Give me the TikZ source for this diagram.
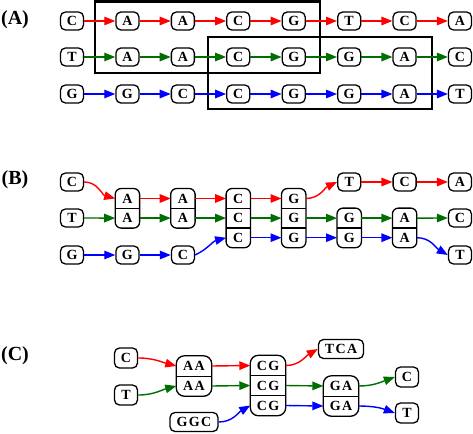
\documentclass[tikz,border=0pt]{standalone}
\usepackage{fontspec}
\setmainfont{Liberation Serif}
\usetikzlibrary{arrows.meta,fit}
\definecolor{myred}{RGB}{255,0,0}
\definecolor{mygreen}{RGB}{0,110,0}
\definecolor{myblue}{RGB}{0,0,255}
\begin{document}
\begin{tikzpicture}[x=1pt,y=1pt,
  nd/.style={draw, line width=1.3pt, rounded corners=5pt, minimum width=23pt, minimum height=18pt, inner sep=0pt, fill=white, font=\fontsize{14}{16}\selectfont\bfseries},
  wnd/.style={nd, minimum height=19pt, font=\fontsize{14}{16}\selectfont\bfseries\addfontfeature{LetterSpace=10}},
  cellB/.style={minimum width=24pt, minimum height=19.6pt, inner sep=0pt, font=\fontsize{14}{16}\selectfont\bfseries},
  cellC/.style={minimum width=35pt, minimum height=20pt, inner sep=0pt, font=\fontsize{14}{16}\selectfont\bfseries\addfontfeature{LetterSpace=10}},
  grp/.style={draw, line width=1.3pt, rounded corners=6pt, inner sep=0pt},
  divl/.style={line width=1.3pt},
  ar/.style={line width=1.4pt, -{Triangle[length=11pt,width=8.5pt]}},
  box/.style={line width=2.8pt},
  lab/.style={font=\fontsize{20}{22}\selectfont\bfseries}
]
\useasboundingbox (0,0) rectangle (473,-433);

% ---------------- (A) ----------------
\node[lab] (labA) at (15,-20) {(A)};
\draw[box] (95,-1.5) rectangle (320,-73);
\draw[box] (208,-37) rectangle (432,-109);
\foreach \t [count=\i] in {C,A,A,C,G,T,C,A}
  \node[nd] (ra\i) at ({72+55.43*(\i-1)},-21) {\t};
\foreach \t [count=\i] in {T,A,A,C,G,G,A,C}
  \node[nd] (ga\i) at ({72+55.43*(\i-1)},-57) {\t};
\foreach \t [count=\i] in {G,G,C,C,G,G,A,T}
  \node[nd] (ba\i) at ({72+55.43*(\i-1)},-94) {\t};
\foreach \i [evaluate=\i as \j using int(\i+1)] in {1,...,7} {
  \draw[ar,myred] (ra\i) -- (ra\j);
  \draw[ar,mygreen] (ga\i) -- (ga\j);
  \draw[ar,myblue] (ba\i) -- (ba\j);
}

% ---------------- (B) ----------------
\node[lab] (labB) at (15,-180) {(B)};
\node[nd] (bC) at (72,-182) {C};
\node[nd] (bT) at (72,-218) {T};
\node[nd] (bG) at (72,-255) {G};
\node[nd] (bG2) at (127.4,-255) {G};
\node[nd] (bC2) at (182.9,-255) {C};
\node[nd] (bT2) at (349.2,-182) {T};
\node[nd] (bC3) at (404.6,-182) {C};
\node[nd] (bA3) at (460,-182) {A};
\node[nd] (bC4) at (460,-218) {C};
\node[nd] (bT4) at (460,-255) {T};
% stacks
\node[cellB] (s1a) at (127.4,-198.5) {A};
\node[cellB] (s1b) at (127.4,-218.1) {A};
\node[grp, fit=(s1a)(s1b)] (s1) {};
\draw[divl] (s1a.south west) -- (s1a.south east);
\node[cellB] (s2a) at (182.9,-198.5) {A};
\node[cellB] (s2b) at (182.9,-218.1) {A};
\node[grp, fit=(s2a)(s2b)] (s2) {};
\draw[divl] (s2a.south west) -- (s2a.south east);
\node[cellB] (s3a) at (238.3,-198.5) {C};
\node[cellB] (s3b) at (238.3,-218.1) {C};
\node[cellB] (s3c) at (238.3,-237.7) {C};
\node[grp, fit=(s3a)(s3c)] (s3) {};
\draw[divl] (s3a.south west) -- (s3a.south east);
\draw[divl] (s3b.south west) -- (s3b.south east);
\node[cellB] (s4a) at (293.7,-198.5) {G};
\node[cellB] (s4b) at (293.7,-218.1) {G};
\node[cellB] (s4c) at (293.7,-237.7) {G};
\node[grp, fit=(s4a)(s4c)] (s4) {};
\draw[divl] (s4a.south west) -- (s4a.south east);
\draw[divl] (s4b.south west) -- (s4b.south east);
\node[cellB] (s5b) at (349.2,-218.1) {G};
\node[cellB] (s5c) at (349.2,-237.7) {G};
\node[grp, fit=(s5b)(s5c)] (s5) {};
\draw[divl] (s5b.south west) -- (s5b.south east);
\node[cellB] (s6b) at (404.6,-218.1) {A};
\node[cellB] (s6c) at (404.6,-237.7) {A};
\node[grp, fit=(s6b)(s6c)] (s6) {};
\draw[divl] (s6b.south west) -- (s6b.south east);
% red
\draw[ar,myred] (bC.east) to[out=0,in=165] (s1a.west);
\draw[ar,myred] (s1a.east) -- (s2a.west);
\draw[ar,myred] (s2a.east) -- (s3a.west);
\draw[ar,myred] (s3a.east) -- (s4a.west);
\draw[ar,myred] (s4a.east) to[out=0,in=205] (bT2.west);
\draw[ar,myred] (bT2) -- (bC3);
\draw[ar,myred] (bC3) -- (bA3);
% green
\draw[ar,mygreen] (bT.east) -- (s1b.west);
\draw[ar,mygreen] (s1b.east) -- (s2b.west);
\draw[ar,mygreen] (s2b.east) -- (s3b.west);
\draw[ar,mygreen] (s3b.east) -- (s4b.west);
\draw[ar,mygreen] (s4b.east) -- (s5b.west);
\draw[ar,mygreen] (s5b.east) -- (s6b.west);
\draw[ar,mygreen] (s6b.east) -- (bC4.west);
% blue
\draw[ar,myblue] (bG) -- (bG2);
\draw[ar,myblue] (bG2) -- (bC2);
\draw[ar,myblue] (bC2.east) to[out=25,in=195] (s3c.west);
\draw[ar,myblue] (s3c.east) -- (s4c.west);
\draw[ar,myblue] (s4c.east) -- (s5c.west);
\draw[ar,myblue] (s5c.east) -- (s6c.west);
\draw[ar,myblue] (s6c.east) to[out=0,in=150] (bT4.west);

% ---------------- (C) ----------------
\node[lab] (labC) at (15,-356) {(C)};
\node[nd, minimum height=20pt] (cC) at (126,-358) {C};
\node[nd, minimum height=20pt] (cT) at (126,-395) {T};
\node[wnd, minimum width=48pt] (cGGC) at (194,-422) {GGC};
\node[wnd, minimum width=45pt] (cTCA) at (341,-349) {TCA};
\node[nd, minimum height=20pt] (cC2) at (407,-377) {C};
\node[nd, minimum height=20pt] (cT2) at (407,-413) {T};
\node[cellC] (t1a) at (194,-366) {AA};
\node[cellC] (t1b) at (194,-386) {AA};
\node[grp, rounded corners=8pt, fit=(t1a)(t1b)] (t1) {};
\draw[divl] (t1a.south west) -- (t1a.south east);
\node[cellC] (t2a) at (268,-365.5) {CG};
\node[cellC] (t2b) at (268,-385.5) {CG};
\node[cellC] (t2c) at (268,-405.5) {CG};
\node[grp, rounded corners=8pt, fit=(t2a)(t2c)] (t2) {};
\draw[divl] (t2a.south west) -- (t2a.south east);
\draw[divl] (t2b.south west) -- (t2b.south east);
\node[cellC] (t3b) at (341,-386) {GA};
\node[cellC] (t3c) at (341,-406) {GA};
\node[grp, rounded corners=8pt, fit=(t3b)(t3c)] (t3) {};
\draw[divl] (t3b.south west) -- (t3b.south east);
% red
\draw[ar,myred] (cC.east) to[out=0,in=165] (t1a.west);
\draw[ar,myred] (t1a.east) -- (t2a.west);
\draw[ar,myred] (t2a.east) to[out=0,in=210] (cTCA.west);
% green
\draw[ar,mygreen] (cT.east) to[out=0,in=195] (t1b.west);
\draw[ar,mygreen] (t1b.east) -- (t2b.west);
\draw[ar,mygreen] (t2b.east) -- (t3b.west);
\draw[ar,mygreen] (t3b.east) to[out=0,in=200] (cC2.west);
% blue
\draw[ar,myblue] (cGGC.east) to[out=0,in=210] (t2c.west);
\draw[ar,myblue] (t2c.east) -- (t3c.west);
\draw[ar,myblue] (t3c.east) to[out=0,in=160] (cT2.west);
\end{tikzpicture}
\end{document}
